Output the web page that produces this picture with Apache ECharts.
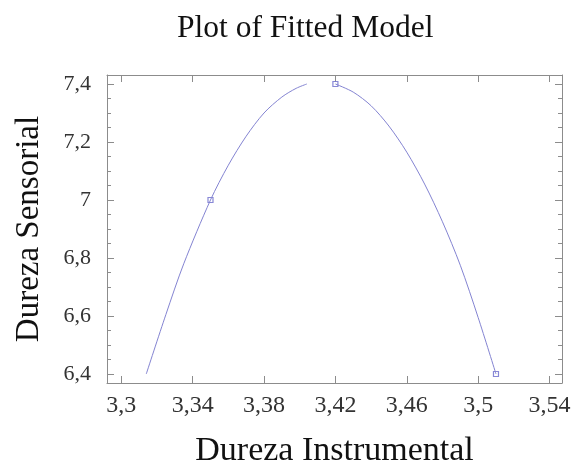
<!DOCTYPE html>
<html>
<head>
<meta charset="utf-8">
<script src="https://cdn.jsdelivr.net/npm/echarts@6/dist/echarts.min.js"></script>
<style>
  html, body { margin: 0; padding: 0; background: #fff; }
  #chart { width: 574px; height: 466px; }
</style>
</head>
<body>
<div id="chart"></div>
<script>
// Observed points
var obsX = [3.35, 3.42, 3.51];
var obsY = [7.0, 7.4, 6.4];

// Fitted curve, left branch (up to the 7.4 ceiling) and right branch
var fitLeftX  = [3.314, 3.325, 3.335, 3.35, 3.36, 3.37, 3.38, 3.39, 3.398, 3.404];
var fitLeftY  = [6.40, 6.605, 6.78, 7.00, 7.12, 7.22, 7.30, 7.355, 7.385, 7.40];
var fitRightX = [3.42, 3.43, 3.44, 3.45, 3.46, 3.47, 3.48, 3.49, 3.50, 3.51];
var fitRightY = [7.40, 7.372, 7.325, 7.255, 7.165, 7.055, 6.925, 6.775, 6.595, 6.40];

// Tick positions
var xTicks = [3.3, 3.34, 3.38, 3.42, 3.46, 3.5, 3.54];
var yTicks = [6.4, 6.6, 6.8, 7.0, 7.2, 7.4];
var yMinorTicks = [6.45, 6.5, 6.55, 6.65, 6.7, 6.75, 6.85, 6.9, 6.95,
                   7.05, 7.1, 7.15, 7.25, 7.3, 7.35];

var xMin = 3.292, xMax = 3.547;
var yMin = 6.369, yMax = 7.431;

function comma(v) {
  return String(Math.round(v * 1000) / 1000).replace('.', ',');
}
function zip(xs, ys) {
  return xs.map(function (x, i) { return [x, ys[i]]; });
}

var frameColor = '#8c8c8c';
var serif = '"Liberation Serif", "DejaVu Serif", serif';

function yAxis(pos, ticks, len, labels, line) {
  return {
    type: 'value', position: pos, min: yMin, max: yMax,
    axisLine: { show: line, onZero: false, lineStyle: { color: frameColor, width: 1 } },
    axisTick: { show: true, inside: true, length: len, customValues: ticks,
                lineStyle: { color: frameColor } },
    axisLabel: labels ? {
      show: true, customValues: yTicks, formatter: comma, margin: 16,
      fontFamily: serif, fontSize: 22, color: '#333'
    } : { show: false },
    splitLine: { show: false }
  };
}
function xAxis(pos, labels) {
  return {
    type: 'value', position: pos, min: xMin, max: xMax,
    axisLine: { show: true, onZero: false, lineStyle: { color: frameColor, width: 1 } },
    axisTick: { show: true, inside: true, length: 7, customValues: xTicks,
                lineStyle: { color: frameColor } },
    axisLabel: labels ? {
      show: true, customValues: xTicks, formatter: comma, margin: 11,
      fontFamily: serif, fontSize: 24, color: '#333'
    } : { show: false },
    splitLine: { show: false }
  };
}

var bottomAxis = xAxis('bottom', true);
bottomAxis.name = 'Dureza Instrumental';
bottomAxis.nameLocation = 'middle';
bottomAxis.nameGap = 51;
bottomAxis.nameTextStyle = { fontFamily: serif, fontSize: 34, color: '#111' };

var leftAxis = yAxis('left', yTicks, 7, true, true);
leftAxis.name = 'Dureza Sensorial';
leftAxis.nameLocation = 'middle';
leftAxis.nameGap = 61;
leftAxis.nameTextStyle = { fontFamily: serif, fontSize: 33, color: '#111' };

var curveColor = '#8484d2';
var markColor = '#6a6acc';

var chart = echarts.init(document.getElementById('chart'), null, { renderer: 'canvas' });
chart.setOption({
  animation: false,
  backgroundColor: '#fff',
  title: {
    text: 'Plot of Fitted Model', left: 172, top: 8,
    textStyle: { fontFamily: serif, fontSize: 31.5, fontWeight: 'normal', color: '#111' }
  },
  grid: {
    left: 107, top: 75, right: 12, bottom: 83,
    containLabel: false, outerBoundsMode: 'none'
  },
  xAxis: [bottomAxis, xAxis('top', false)],
  yAxis: [
    leftAxis,
    yAxis('left', yMinorTicks, 4, false, false),
    yAxis('right', yTicks, 7, false, true),
    yAxis('right', yMinorTicks, 4, false, false)
  ],
  series: [
    {
      type: 'line', xAxisIndex: 0, yAxisIndex: 0,
      data: zip(fitLeftX, fitLeftY), smooth: 0.3, showSymbol: false,
      lineStyle: { color: curveColor, width: 1 }
    },
    {
      type: 'line', xAxisIndex: 0, yAxisIndex: 0,
      data: zip(fitRightX, fitRightY), smooth: 0.3, showSymbol: false,
      lineStyle: { color: curveColor, width: 1 }
    },
    {
      type: 'scatter', xAxisIndex: 0, yAxisIndex: 0,
      data: zip(obsX, obsY), symbol: 'rect', symbolSize: 5,
      itemStyle: { color: '#fff', borderColor: markColor, borderWidth: 1.2 }
    }
  ]
});
</script>
</body>
</html>
